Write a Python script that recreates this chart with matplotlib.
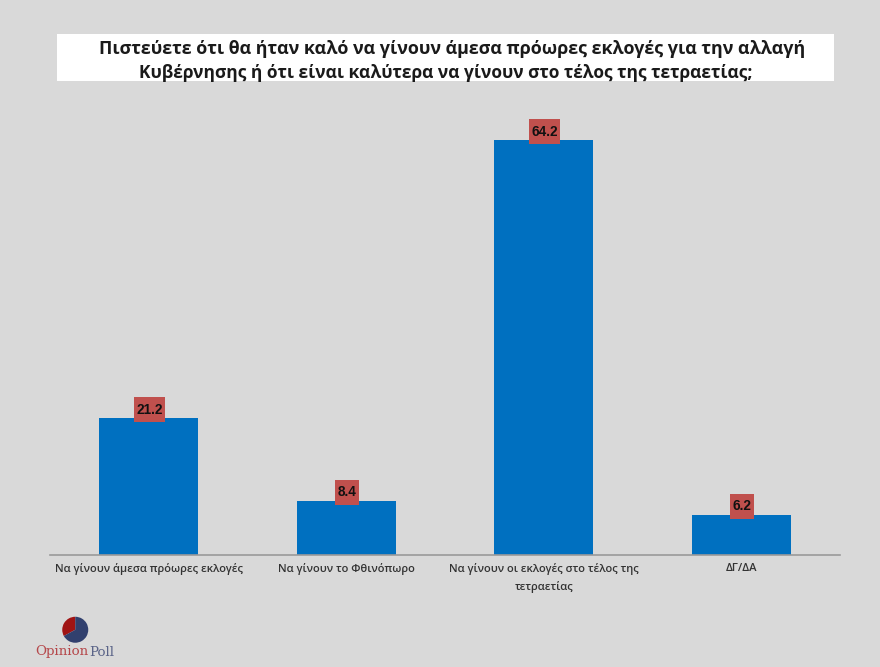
import matplotlib
matplotlib.use("Agg")
import matplotlib.pyplot as plt
from matplotlib.path import Path

# values
categories = ["Να γίνουν άμεσα πρόωρες εκλογές", "Να γίνουν το Φθινόπωρο",
              "Να γίνουν οι εκλογές στο τέλος της\nτετραετίας", "ΔΓ/ΔΑ"]
values = [21.2, 8.4, 64.2, 6.2]
title_1 = "Πιστεύετε ότι θα ήταν καλό να γίνουν άμεσα πρόωρες εκλογές για την αλλαγή"
title_2 = "Κυβέρνησης ή ότι είναι καλύτερα να γίνουν στο τέλος της τετραετίας;"
logo_shares = [33, 67]

BG = "#d9d9d9"
W, H = 880, 667


# label box: narrow at the sides, tall above and below the digits
def label_box(x0, y0, width, height, mutation_size):
    px = 2.4
    py = 5.5
    x1, y1 = x0 + width + px, y0 + height + py
    x0, y0 = x0 - px, y0 - py
    return Path([(x0, y0), (x1, y0), (x1, y1), (x0, y1), (x0, y0)], closed=True)


fig = plt.figure(figsize=(W / 100, H / 100), dpi=100, facecolor=BG)

# title band, the two lines sit a little off from each other in the original
band = plt.Rectangle((57 / W, 1 - 81 / H), 777 / W, 47 / H, transform=fig.transFigure,
                     facecolor="white", edgecolor="none")
fig.patches.append(band)
fig.text(452 / W, 1 - 49 / H, title_1, ha="center", va="center", family="Open Sans",
         fontsize=12.9, fontweight="bold", color="#1a1a1a")
fig.text(445.5 / W, 1 - 73 / H, title_2, ha="center", va="center", family="Open Sans",
         fontsize=12.55, fontweight="bold", color="#1a1a1a")

# main chart
ax = fig.add_axes([50 / W, 1 - 555 / H, 790 / W, 455 / H], facecolor="none")
x = range(len(values))
bars = ax.bar(x, values, width=0.5, color="#0070c0", edgecolor="none")
ax.set_xlim(-0.5, 3.5)
ax.set_ylim(0, 455 / 6.457)
ax.set_yticks([])
for s in ["top", "left", "right"]:
    ax.spines[s].set_visible(False)
ax.spines["bottom"].set_color("#9a9a9a")
ax.spines["bottom"].set_linewidth(1.2)
ax.set_xticks(list(x))
ax.set_xticklabels(categories, family="Open Sans", fontsize=8, fontweight="semibold",
                   color="#333333", linespacing=1.6)
ax.tick_params(axis="x", length=0, pad=6)

for b, v in zip(bars, values):
    ax.annotate(f"{v:.1f}", (b.get_x() + b.get_width() / 2, v), xytext=(0.5, 6.2),
                textcoords="offset points", ha="center", va="center",
                family="Liberation Sans", fontsize=9.8, fontweight="bold", color="#111111",
                bbox=dict(boxstyle=label_box, facecolor="#c0504d", edgecolor="none"))

# logo
logo = fig.add_axes([59 / W, 1 - 646 / H, 32.5 / W, 32.5 / H])
logo.pie(logo_shares, colors=["#a01414", "#31406e"], startangle=90, radius=1.0)
fig.text(35 / W, 1 - 652 / H, "Opinion", family="DejaVu Serif", fontsize=9.6, color="#b5474a", va="center")
fig.text(89 / W, 1 - 652 / H, "Poll", family="DejaVu Serif", fontsize=9.6, color="#5b6488", va="center")

fig.savefig("out.png", dpi=100, facecolor=BG)
